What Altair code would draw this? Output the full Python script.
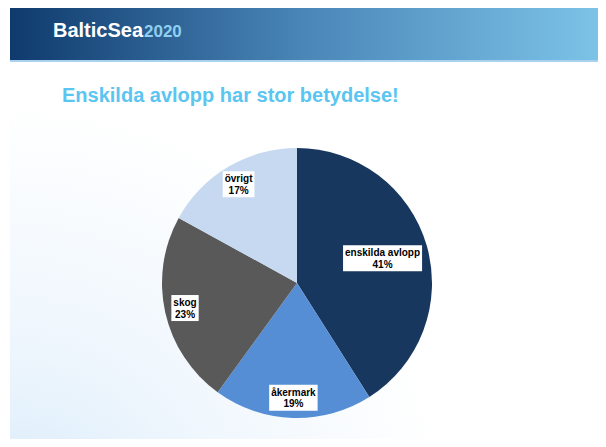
import math
import altair as alt
import pandas as pd

# ---- data ----
categories = ["enskilda avlopp", "åkermark", "skog", "övrigt"]
shares = [41, 19, 23, 17]
colors = ["#17375E", "#558ED5", "#595959", "#C6D9F1"]
title_text = "Enskilda avlopp har stor betydelse!"

# ---- layout constants ----
W, H = 590, 431
CX, CY, R = 289, 275, 135
FS = 10

# Arial/Liberation Sans Bold advance widths (per 1000 em)
AW = {"a": 556, "d": 611, "e": 556, "g": 611, "i": 278, "k": 556, "l": 278,
      "m": 889, "n": 611, "o": 611, "p": 611, "r": 389, "s": 556, "t": 333,
      "v": 556, "å": 556, "ö": 611, " ": 278, "%": 889}


def text_w(s):
    return sum(AW.get(c, 556) for c in s) * FS / 1000.0


total = sum(shares)
rows = []
cum = 0
for i, (c, v) in enumerate(zip(categories, shares)):
    mid = (cum + v / 2) / total
    cum += v
    a = 2 * math.pi * mid
    r = R * (0.66 if v / total > 0.3 else 0.85)
    lx = CX + r * math.sin(a)
    ly = CY - r * math.cos(a)
    pct = f"{round(v / total * 100)}%"
    bw = max(text_w(c), text_w(pct)) + 4
    rows.append({"category": c, "share": v, "order": i,
                 "name": c, "pct": pct, "lx": lx, "ly": ly,
                 "x0": lx - bw / 2, "x1": lx + bw / 2,
                 "y0": ly - 13, "y1": ly + 13})
df = pd.DataFrame(rows)

xs = alt.Scale(domain=[0, W], range=[0, W])
ys = alt.Scale(domain=[0, H], range=[0, H])
one = alt.Data(values=[{}])

bg = alt.Chart(one).mark_rect(
    color=alt.RadialGradient(
        gradient="radial", x1=0, y1=1, r1=0, x2=0, y2=1, r2=0.75,
        stops=[alt.GradientStop(offset=0, color="#d5e9fa"),
               alt.GradientStop(offset=0.45, color="#eef6fd"),
               alt.GradientStop(offset=1, color="#ffffff")])
).encode(x=alt.value(2), x2=alt.value(W), y=alt.value(54), y2=alt.value(H))

banner = alt.Chart(one).mark_rect(
    color=alt.LinearGradient(
        gradient="linear", x1=0, y1=0, x2=1, y2=0,
        stops=[alt.GradientStop(offset=0, color="#0f3a6d"),
               alt.GradientStop(offset=0.5, color="#4a86b8"),
               alt.GradientStop(offset=1, color="#7cc3e7")])
).encode(x=alt.value(2), x2=alt.value(W), y=alt.value(0), y2=alt.value(52))

bline = alt.Chart(one).mark_rect(color="#a8d2ee").encode(
    x=alt.value(2), x2=alt.value(W), y=alt.value(52), y2=alt.value(54))

logo1 = alt.Chart(one).mark_text(
    align="left", baseline="alphabetic", font="Liberation Sans",
    fontWeight="bold", fontSize=20, color="white"
).encode(x=alt.value(45), y=alt.value(29), text=alt.value("BalticSea"))

logo2 = alt.Chart(one).mark_text(
    align="left", baseline="alphabetic", font="Liberation Sans",
    fontWeight="bold", fontSize=17, color="#8fd0f0"
).encode(x=alt.value(136), y=alt.value(29), text=alt.value("2020"))

title = alt.Chart(one).mark_text(
    align="left", baseline="alphabetic", font="Liberation Sans",
    fontWeight="bold", fontSize=20, color="#5BC5F2"
).encode(x=alt.value(54), y=alt.value(94), text=alt.value(title_text))

pie = alt.Chart(df).mark_arc(radius=R).encode(
    theta=alt.Theta("share:Q", stack=True),
    color=alt.Color("category:N", scale=alt.Scale(domain=categories, range=colors), legend=None),
    order=alt.Order("order:Q"),
    x=alt.value(CX), y=alt.value(CY),
)

boxes = alt.Chart(df).mark_rect(color="white").encode(
    x=alt.X("x0:Q", scale=xs, axis=None), x2="x1:Q",
    y=alt.Y("y0:Q", scale=ys, axis=None), y2="y1:Q",
)

tstyle = dict(font="Liberation Sans", fontWeight="bold", fontSize=FS,
              align="center", baseline="alphabetic", color="black")

labels1 = alt.Chart(df).mark_text(dy=-2, **tstyle).encode(
    x=alt.X("lx:Q", scale=xs, axis=None),
    y=alt.Y("ly:Q", scale=ys, axis=None),
    text="name:N",
)
labels2 = alt.Chart(df).mark_text(dy=9.5, **tstyle).encode(
    x=alt.X("lx:Q", scale=xs, axis=None),
    y=alt.Y("ly:Q", scale=ys, axis=None),
    text="pct:N",
)

chart = alt.layer(bg, banner, bline, logo1, logo2, title, pie, boxes, labels1, labels2).properties(
    width=W, height=H, padding=0, autosize="none", background="white"
).configure_view(stroke=None)

chart.save("out.html", embed_options={"renderer": "svg", "actions": False})
